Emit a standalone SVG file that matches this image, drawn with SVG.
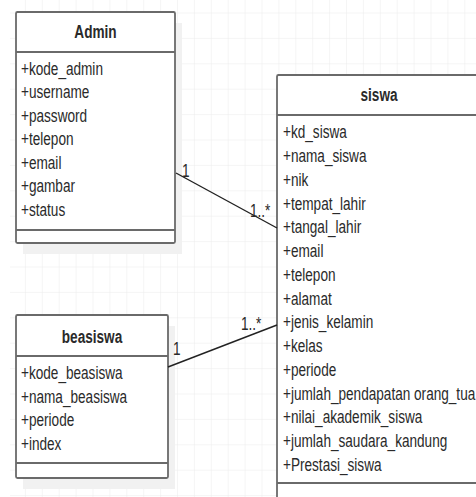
<svg xmlns="http://www.w3.org/2000/svg" width="476" height="497" viewBox="0 0 476 497">
<defs>
<pattern id="grid" x="8" y="12.5" width="16.9" height="25.4" patternUnits="userSpaceOnUse">
<path d="M0 0 V25.4 M0 0 H16.9" fill="none" stroke="#ececec" stroke-width="1"/>
</pattern>
<style>
.box{fill:#fff;stroke:#6a6a6a;stroke-width:1.8}
.sh{fill:#f1f1f1;stroke:none}
.sep{stroke:#6a6a6a;stroke-width:1.8}
.t{font-family:"Liberation Sans",Arial,sans-serif;font-size:17.5px;fill:#2a2a2a}
.b{font-weight:bold;text-anchor:middle}
.edge{stroke:#222;stroke-width:1.4;fill:none}
</style>
</defs>
<rect width="476" height="497" fill="#fff"/>
<rect x="10" y="0" width="466" height="497" fill="url(#grid)"/>

<g id="admin">
<rect class="sh" x="23" y="23" width="159" height="231"/>
<rect class="box" x="16" y="12" width="159" height="231" rx="1.5"/>
<line class="sep" x1="16" y1="52" x2="175" y2="52"/>
<line class="sep" x1="16" y1="230" x2="175" y2="230"/>
<g transform="translate(95.5,0) scale(0.777,1)"><text class="t b" x="0" y="38">Admin</text></g>
<g transform="translate(21,0) scale(0.777,1)" class="t">
<text x="0" y="75">+kode_admin</text>
<text x="0" y="98.5">+username</text>
<text x="0" y="122">+password</text>
<text x="0" y="145.5">+telepon</text>
<text x="0" y="169">+email</text>
<text x="0" y="192.5">+gambar</text>
<text x="0" y="216">+status</text>
</g>
</g>

<g id="beasiswa">
<rect class="sh" x="23" y="326" width="152" height="163"/>
<rect class="box" x="16" y="315" width="152" height="163" rx="1.5"/>
<line class="sep" x1="16" y1="356" x2="168" y2="356"/>
<line class="sep" x1="16" y1="463" x2="168" y2="463"/>
<g transform="translate(92,0) scale(0.777,1)"><text class="t b" x="0" y="343">beasiswa</text></g>
<g transform="translate(21,0) scale(0.777,1)" class="t">
<text x="0" y="379.5">+kode_beasiswa</text>
<text x="0" y="403">+nama_beasiswa</text>
<text x="0" y="426.5">+periode</text>
<text x="0" y="450">+index</text>
</g>
</g>

<g id="siswa">
<rect class="box" x="277" y="75" width="204" height="440" rx="1.5"/>
<line class="sep" x1="277" y1="115" x2="481" y2="115"/>
<line class="sep" x1="277" y1="483" x2="481" y2="483"/>
<g transform="translate(379,0) scale(0.777,1)"><text class="t b" x="0" y="101">siswa</text></g>
<g transform="translate(283,0) scale(0.777,1)" class="t">
<text x="0" y="138.5">+kd_siswa</text>
<text x="0" y="162.2">+nama_siswa</text>
<text x="0" y="186">+nik</text>
<text x="0" y="209.7">+tempat_lahir</text>
<text x="0" y="233.5">+tangal_lahir</text>
<text x="0" y="257.2">+email</text>
<text x="0" y="281">+telepon</text>
<text x="0" y="304.7">+alamat</text>
<text x="0" y="328.5">+jenis_kelamin</text>
<text x="0" y="352.2">+kelas</text>
<text x="0" y="376">+periode</text>
<text x="0" y="399.7">+jumlah_pendapatan orang_tua</text>
<text x="0" y="423.5">+nilai_akademik_siswa</text>
<text x="0" y="447.2">+jumlah_saudara_kandung</text>
<text x="0" y="471">+Prestasi_siswa</text>
</g>
</g>

<g id="connectors">
<line class="edge" x1="176" y1="173" x2="277" y2="228"/>
<line class="edge" x1="168" y1="367" x2="277" y2="325"/>
<g class="t">
<text transform="translate(182,177) scale(0.777,1)">1</text>
<text transform="translate(250,217) scale(0.777,1)">1..*</text>
<text transform="translate(173,355) scale(0.777,1)">1</text>
<text transform="translate(241,330) scale(0.777,1)">1..*</text>
</g>
</g>
</svg>
